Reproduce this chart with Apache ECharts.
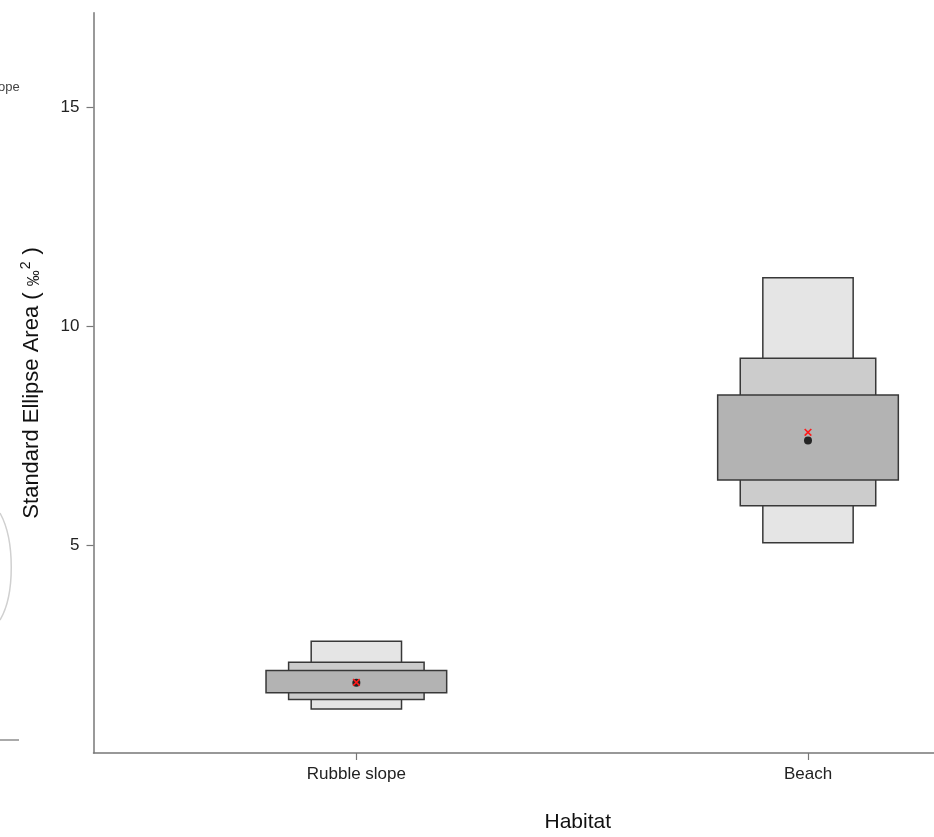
<!DOCTYPE html>
<html>
<head>
<meta charset="utf-8">
<script src="https://cdn.jsdelivr.net/npm/echarts@6/dist/echarts.min.js"></script>
<style>html,body{margin:0;padding:0;background:#fff}#c{width:934px;height:837px}</style>
</head>
<body>
<div id="c"></div>
<script>
var categories = ['Rubble slope', 'Beach'];
var catPos = [1, 2];
var ci95Low = [1.27, 5.07];
var ci95High = [2.82, 11.12];
var ci75Low = [1.49, 5.91];
var ci75High = [2.34, 9.28];
var ci50Low = [1.64, 6.50];
var ci50High = [2.15, 8.44];
var modeVals = [1.87, 7.40];
var trueVals = [1.88, 7.59];
var yTicks = [5, 10, 15];

var boxLayers = [
  {low: ci95Low, high: ci95High, half: 0.10, color: '#e5e5e5'},
  {low: ci75Low, high: ci75High, half: 0.15, color: '#cccccc'},
  {low: ci50Low, high: ci50High, half: 0.20, color: '#b3b3b3'}
];

function boxSeries(layer) {
  return {
    type: 'custom',
    silent: true,
    data: catPos.map(function (p, i) { return [p, layer.low[i], layer.high[i]]; }),
    renderItem: function (params, api) {
      var x = api.value(0), lo = api.value(1), hi = api.value(2);
      var p1 = api.coord([x - layer.half, hi]);
      var p2 = api.coord([x + layer.half, lo]);
      return {
        type: 'rect',
        shape: {x: p1[0], y: p1[1], width: p2[0] - p1[0], height: p2[1] - p1[1]},
        style: {fill: layer.color, stroke: '#383838', lineWidth: 1.5}
      };
    }
  };
}

var chart = echarts.init(document.getElementById('c'), null, {renderer: 'canvas'});
var series = boxLayers.map(boxSeries);
series.push({
  type: 'scatter',
  silent: true,
  symbol: 'circle',
  symbolSize: 8,
  itemStyle: {color: '#000'},
  data: catPos.map(function (p, i) { return [p, modeVals[i]]; })
});
series.push({
  type: 'custom',
  silent: true,
  z: 5,
  data: catPos.map(function (p, i) { return [p, trueVals[i]]; }),
  renderItem: function (params, api) {
    var c = api.coord([api.value(0), api.value(1)]);
    var s = 3.3;
    return {
      type: 'group',
      children: [
        {type: 'line', shape: {x1: c[0] - s, y1: c[1] - s, x2: c[0] + s, y2: c[1] + s}, style: {stroke: '#ff1a1a', lineWidth: 1.6}},
        {type: 'line', shape: {x1: c[0] - s, y1: c[1] + s, x2: c[0] + s, y2: c[1] - s}, style: {stroke: '#ff1a1a', lineWidth: 1.6}}
      ]
    };
  }
});

chart.setOption({
  animation: false,
  backgroundColor: '#fff',
  grid: {left: 93.5, right: 0, top: 12.7, bottom: 84, containLabel: false, outerBoundsMode: 'none'},
  xAxis: {
    type: 'value',
    min: 0.418,
    max: 2.279,
    name: 'Habitat',
    nameLocation: 'middle',
    nameGap: 59,
    nameTextStyle: {fontFamily: 'Liberation Sans', fontSize: 21, color: '#111', padding: [0, 0, 0, 128]},
    splitLine: {show: false},
    axisLine: {show: true, lineStyle: {color: '#777', width: 1.5}},
    axisTick: {show: true, length: 7, customValues: catPos, lineStyle: {color: '#777', width: 1.2}},
    axisLabel: {
      customValues: catPos,
      margin: 13,
      fontFamily: 'Liberation Sans', fontSize: 17, color: '#222',
      formatter: function (v) { var i = catPos.indexOf(v); return i >= 0 ? categories[i] : ''; }
    }
  },
  yAxis: {
    type: 'value',
    min: 0.267,
    max: 17.17,
    name: '{t|Standard Ellipse Area ( }{s|‰}{p|2}{t| )}',
    nameLocation: 'middle',
    nameGap: 49,
    nameTextStyle: {
      rich: {
        t: {fontFamily: 'Liberation Sans', fontSize: 22, color: '#111'},
        s: {fontFamily: 'Liberation Sans', fontSize: 16, color: '#111', padding: [5, 0, 0, 0]},
        p: {fontFamily: 'Liberation Sans', fontSize: 14, color: '#111', padding: [0, 1, 11, 1]}
      }
    },
    splitLine: {show: false},
    axisLine: {show: true, lineStyle: {color: '#777', width: 1.5}},
    axisTick: {show: true, length: 7, customValues: yTicks, lineStyle: {color: '#777', width: 1.2}},
    axisLabel: {customValues: yTicks, margin: 14, fontFamily: 'Liberation Sans', fontSize: 17, color: '#222'}
  },
  graphic: [
    {type: 'text', left: -2, top: 81, silent: true,
     style: {text: 'ope', fontFamily: 'Liberation Sans', fontSize: 13, fill: '#444'}},
    {type: 'bezierCurve', silent: true,
     shape: {x1: 0, y1: 513, cpx1: 15, cpy1: 540, cpx2: 15, cpy2: 595, x2: 0, y2: 620},
     style: {stroke: '#d0d0d0', lineWidth: 1.5, fill: null}},
    {type: 'line', silent: true,
     shape: {x1: 0, y1: 740, x2: 19, y2: 740},
     style: {stroke: '#aaaaaa', lineWidth: 2}}
  ],
  series: series
});
</script>
</body>
</html>
